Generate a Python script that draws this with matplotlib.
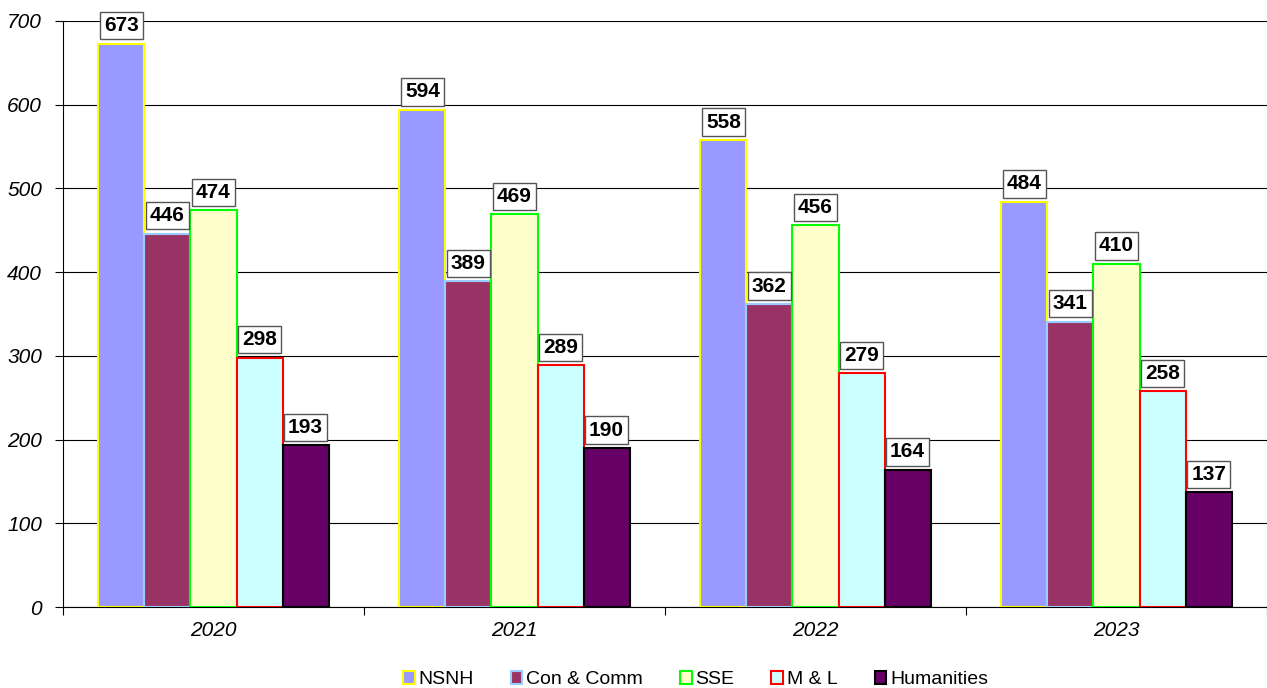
import numpy as np
import matplotlib.pyplot as plt
from matplotlib.ticker import MultipleLocator, FixedLocator

plt.rcParams['font.family'] = ['Liberation Sans', 'DejaVu Sans']

years = ['2020', '2021', '2022', '2023']
series = ['NSNH', 'Con & Comm', 'SSE', 'M & L', 'Humanities']
nsnh = [673, 594, 558, 484]
con_comm = [446, 389, 362, 341]
sse = [474, 469, 456, 410]
m_l = [298, 289, 279, 258]
humanities = [193, 190, 164, 137]
values = [nsnh, con_comm, sse, m_l, humanities]

faces = ['#9999FF', '#993366', '#FFFFCC', '#CCFFFF', '#660066']
edges = ['#FFFF00', '#99CCFF', '#00FF00', '#FF0000', '#000000']

fig = plt.figure(figsize=(12.67, 6.88), dpi=100)
ax = fig.add_axes([0.0497, 0.1177, 0.9503, 0.8518])

x = np.arange(len(years))
w = 0.153
for i, (name, vals) in enumerate(zip(series, values)):
    pos = x + (i - 2) * w
    bars = ax.bar(pos, vals, width=w, color=faces[i], edgecolor=edges[i],
                  linewidth=1.5, label=name, zorder=3)
    for b, v in zip(bars, vals):
        ax.annotate(str(v), (b.get_x() + b.get_width() / 2, v),
                    xytext=(0, 6), textcoords='offset points',
                    ha='center', va='bottom', fontsize=15, fontweight='bold',
                    bbox=dict(boxstyle='square,pad=0.2', fc='white', ec='#555555', lw=1),
                    zorder=5)

ax.set_xlim(-0.5, 3.5)
ax.set_ylim(0, 700)
ax.yaxis.set_major_locator(MultipleLocator(100))
ax.grid(axis='y', color='black', linewidth=0.8, zorder=0)
ax.set_axisbelow(True)

ax.set_xticks(x)
ax.set_xticklabels(years, fontsize=15, fontstyle='italic')
ax.tick_params(axis='x', which='major', length=0, pad=10)
ax.xaxis.set_minor_locator(FixedLocator([-0.5, 0.5, 1.5, 2.5, 3.5]))
ax.tick_params(axis='x', which='minor', length=6, width=0.8)
ax.tick_params(axis='y', length=6, width=0.8, labelsize=15, pad=9)
for t in ax.get_yticklabels():
    t.set_fontstyle('italic')

ax.spines['top'].set_visible(False)
ax.spines['right'].set_visible(False)

fig.legend(loc='lower center', ncol=5, frameon=False, fontsize=14,
           bbox_to_anchor=(0.549, -0.026), handlelength=0.6, handleheight=0.6,
           handletextpad=0.2, columnspacing=1.9)

fig.savefig('out.png', dpi=100)
